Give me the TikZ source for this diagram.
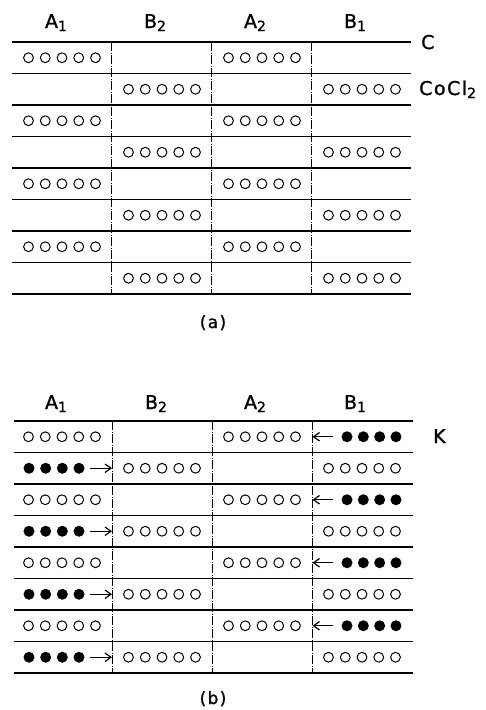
\documentclass[tikz,border=0pt]{standalone}
\usepackage{fontspec}
\setmainfont{DejaVu Sans}[LetterSpace=8,FakeBold=1.2]
\usetikzlibrary{arrows.meta}
\newcommand{\subsc}[1]{\raisebox{-3pt}{\fontsize{14}{14}\selectfont #1}}
\begin{document}
\begin{tikzpicture}[x=1pt,y=-1pt,
  hline/.style={line width=1.3pt},
  vline/.style={line width=1pt, dash pattern=on 9pt off 1.5pt on 1pt off 1.5pt},
  oc/.style={circle,draw,line width=1pt,minimum size=9.8pt,inner sep=0pt},
  fc/.style={circle,fill,minimum size=11pt,inner sep=0pt},
  hdr/.style={font=\fontsize{19}{19}\selectfont,anchor=base,inner sep=0pt},
  captext/.style={font=\fontsize{17}{17}\selectfont,anchor=base,inner sep=0pt},
  arr/.style={-{Straight Barb[length=6pt,width=8.5pt,line width=1.2pt]},line width=1.2pt}]
\useasboundingbox (0,0) rectangle (486,710);

% ---------------- (a) ----------------
\node[hdr] (ha1) at (56,28) {A\subsc{1}};
\node[hdr] (hb2) at (155,28) {B\subsc{2}};
\node[hdr] (ha2) at (255,28) {A\subsc{2}};
\node[hdr] (hb1) at (355,28) {B\subsc{1}};
\node[hdr,anchor=base west] (lc) at (421,49) {C};
\node[hdr,anchor=base west] (lco) at (419,95) {CoCl\subsc{2}};

\foreach \k in {0,...,8} {
  \draw[hline] (12,{42+31.5*\k}) -- (411,{42+31.5*\k});
}
\foreach \xx in {111,211,311} {
  \draw[vline] (\xx,42) -- (\xx,294);
}
\foreach \r in {0,...,7} {
  \pgfmathsetmacro\yc{57.75+31.5*\r}
  \pgfmathtruncatemacro\pr{mod(\r,2)}
  \foreach \c in {0,2} {
    \pgfmathtruncatemacro\cc{\c+\pr}
    \foreach \i in {0,...,4} {
      \node[oc] (a\r-\cc-\i) at ({12+100*\cc+16.5+16.75*\i},\yc) {};
    }
  }
}
\node[captext] (capa) at (213,328) {(a)};

% ---------------- (b) ----------------
\node[hdr] (hba1) at (56,409) {A\subsc{1}};
\node[hdr] (hbb2) at (156,409) {B\subsc{2}};
\node[hdr] (hba2) at (255,409) {A\subsc{2}};
\node[hdr] (hbb1) at (355,409) {B\subsc{1}};
\node[hdr,anchor=base west] (lk) at (433,443) {K};

\foreach \k in {0,...,8} {
  \draw[hline] (14,{421+31.5*\k}) -- (413,{421+31.5*\k});
}
\foreach \xx in {112.5,212.5,312} {
  \draw[vline] (\xx,421) -- (\xx,674);
}
\foreach \r in {0,...,7} {
  \pgfmathsetmacro\yc{436.75+31.5*\r}
  \pgfmathtruncatemacro\pr{mod(\r,2)}
  \ifnum\pr=0
    \foreach \cc in {0,2} {
      \foreach \i in {0,...,4} {
        \node[oc] (b\r-\cc-\i) at ({12+100*\cc+16.5+16.75*\i},\yc) {};
      }
    }
    \foreach \i in {0,...,3} {
      \node[fc] (bf\r-\i) at ({347+16.33*\i},\yc) {};
    }
    \coordinate (as\r) at (333,\yc);
    \coordinate (ae\r) at (312.5,\yc);
    \draw[arr] (as\r) -- (ae\r);
  \else
    \foreach \cc in {1,3} {
      \foreach \i in {0,...,4} {
        \node[oc] (b\r-\cc-\i) at ({12+100*\cc+16.5+16.75*\i},\yc) {};
      }
    }
    \foreach \i in {0,...,3} {
      \node[fc] (bf\r-\i) at ({29+16.67*\i},\yc) {};
    }
    \coordinate (as\r) at (90,\yc);
    \coordinate (ae\r) at (112,\yc);
    \draw[arr] (as\r) -- (ae\r);
  \fi
}
\node[captext] (capb) at (213,704) {(b)};
\end{tikzpicture}
\end{document}
